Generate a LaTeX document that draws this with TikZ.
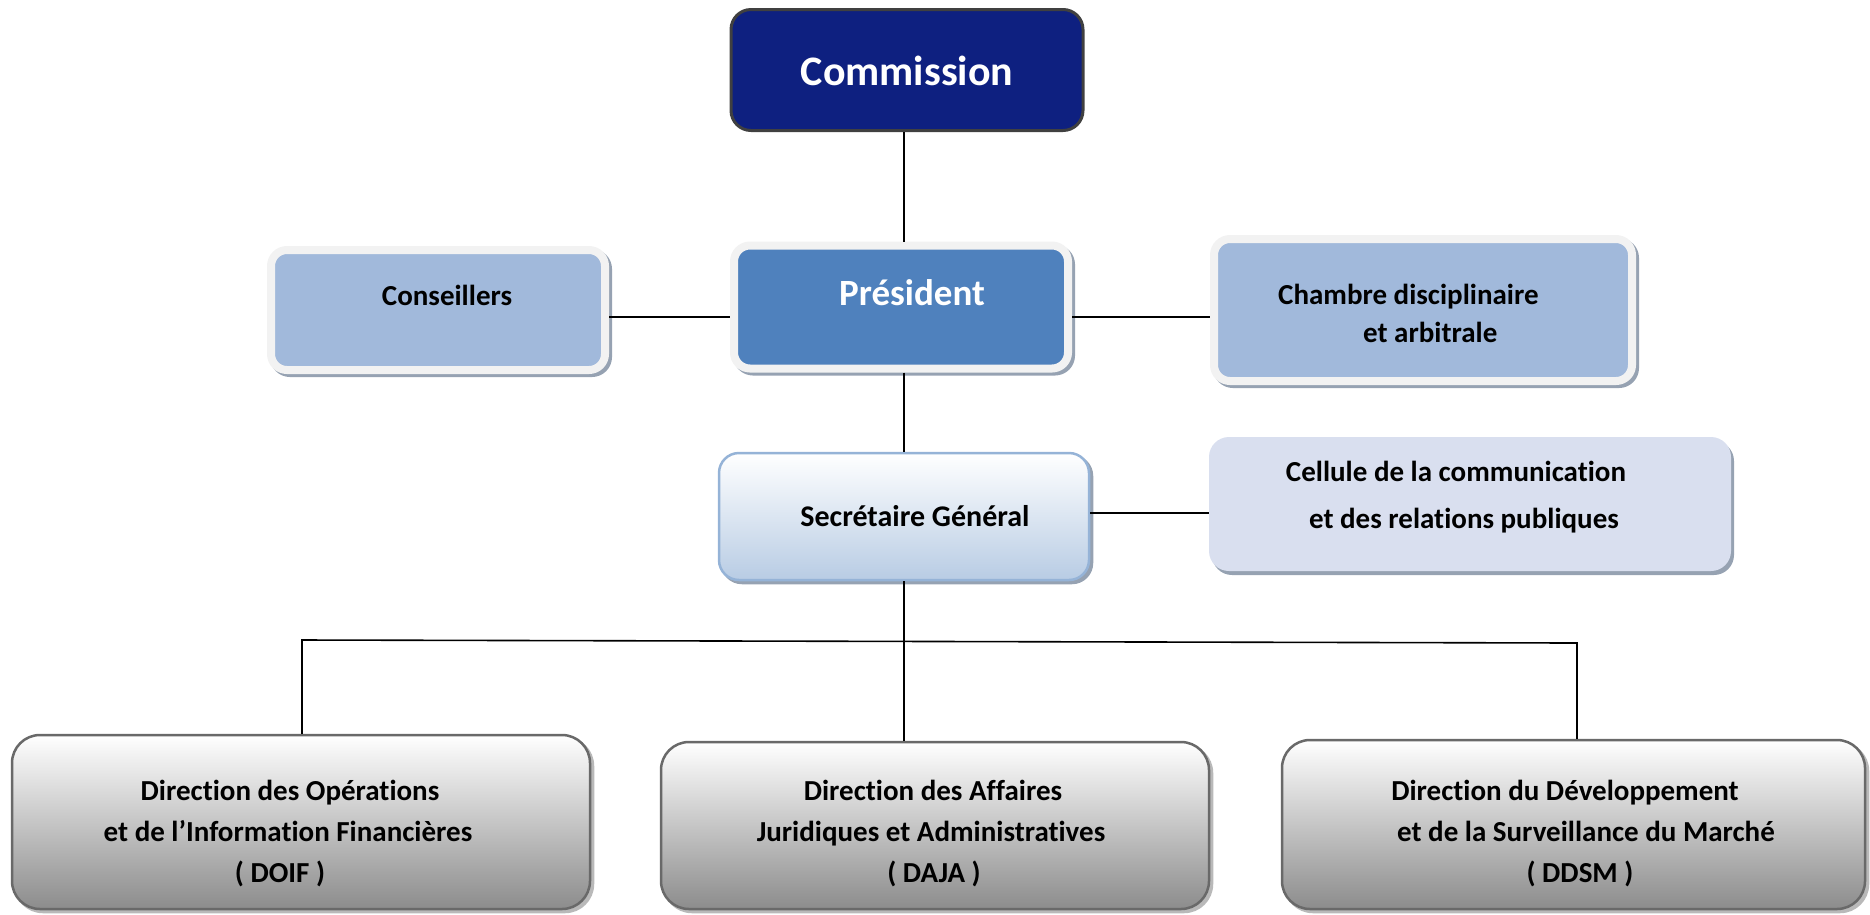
\documentclass[tikz,border=0pt]{standalone}
\usepackage{fontspec}
\setmainfont{Carlito}[Ligatures={NoCommon}]
\definecolor{commfill}{RGB}{14,32,128}
\definecolor{commdraw}{RGB}{64,64,64}
\definecolor{presfill}{RGB}{79,129,189}
\definecolor{litefill}{RGB}{161,185,219}
\definecolor{bevel}{RGB}{242,242,242}
\definecolor{shadowc}{RGB}{150,162,178}
\definecolor{cellfill}{RGB}{217,223,239}
\definecolor{sgbot}{RGB}{184,204,228}
\definecolor{sgmid}{RGB}{226,234,244}
\definecolor{sgdraw}{RGB}{149,179,215}
\definecolor{dirbot}{RGB}{140,140,140}
\definecolor{dirmid}{RGB}{212,212,212}
\definecolor{dirdraw}{RGB}{105,105,105}
\definecolor{dirshadow}{RGB}{185,185,185}
\begin{document}
\begin{tikzpicture}[x=1pt,y=-1pt,
  boxbase/.style={rectangle, inner sep=0pt},
  commbox/.style={boxbase, fill=commfill, draw=commdraw, line width=3pt, rounded corners=20pt},
  bevelbox/.style={boxbase, draw=bevel, line width=8pt, rounded corners=16pt,
    preaction={fill=shadowc, draw=shadowc, line width=8pt, transform canvas={shift={(3pt,-3pt)}}}},
  presbox/.style={bevelbox, fill=presfill},
  litebox/.style={bevelbox, fill=litefill},
  sgbox/.style={boxbase, draw=sgdraw, line width=2.5pt, rounded corners=20pt,
    top color=white, middle color=sgmid, bottom color=sgbot,
    preaction={fill=shadowc, draw=shadowc, line width=2.5pt, transform canvas={shift={(3pt,-3pt)}}}},
  cellbox/.style={boxbase, fill=cellfill, rounded corners=20pt,
    preaction={fill=shadowc, transform canvas={shift={(3pt,-4pt)}}}},
  dirbox/.style={boxbase, draw=dirdraw, line width=2.5pt, rounded corners=28pt,
    top color=white, middle color=dirmid, bottom color=dirbot,
    preaction={fill=dirshadow, draw=dirshadow, line width=2.5pt, transform canvas={shift={(3pt,-3pt)}}}},
  txt/.style={inner sep=0pt, text height=0.62em, text depth=0pt, font=\bfseries\fontsize{29}{35}\selectfont},
  wtxt/.style={txt, text=white},
  conn/.style={draw=black, line width=1.6pt}
]
\useasboundingbox (0,0) rectangle (1870,914);

% boxes
\node[commbox, minimum width=352pt, minimum height=121pt] (comm) at (907,70) {};
\node[presbox, minimum width=334pt, minimum height=123pt] (pres) at (901,307) {};
\node[litebox, minimum width=334pt, minimum height=120pt] (cons) at (438,310) {};
\node[litebox, minimum width=418pt, minimum height=142pt] (cham) at (1423,310) {};
\node[sgbox, minimum width=370pt, minimum height=127pt] (sg) at (904,516.5) {};
\node[cellbox, minimum width=522pt, minimum height=134pt] (cell) at (1470,504) {};
\node[dirbox, minimum width=578pt, minimum height=174pt] (doif) at (301,822) {};
\node[dirbox, minimum width=548pt, minimum height=167pt] (daja) at (935,825.5) {};
\node[dirbox, minimum width=583pt, minimum height=169pt] (ddsm) at (1573.5,824.5) {};

% texts
\node[wtxt, font=\bfseries\fontsize{42}{50}\selectfont] (tcomm) at (907,82) {Commission};
\node[wtxt, font=\bfseries\fontsize{37}{44}\selectfont] (tpres) at (912,302) {Président};
\node[txt] (tcons) at (447,302) {Conseillers};
\node[txt, anchor=west] (tcham1) at (1278,301) {Chambre disciplinaire};
\node[txt, anchor=west] (tcham2) at (1363,339) {et arbitrale};
\node[txt, font=\bfseries\fontsize{30}{36}\selectfont] (tsg) at (915,523) {Secrétaire Général};
\node[txt] (tcell1) at (1456,478) {Cellule de la communication};
\node[txt] (tcell2) at (1464,525) {et des relations publiques};
\node[txt] (tdoif1) at (290,797) {Direction des Opérations};
\node[txt] (tdoif2) at (288,838) {et de l’Information Financières};
\node[txt] (tdoif3) at (280,879) {( DOIF )};
\node[txt] (tdaja1) at (933,797) {Direction des Affaires};
\node[txt] (tdaja2) at (931,838) {Juridiques et Administratives};
\node[txt] (tdaja3) at (934,879) {( DAJA )};
\node[txt] (tddsm1) at (1565,797) {Direction du Développement};
\node[txt] (tddsm2) at (1586,838) {et de la Surveillance du Marché};
\node[txt] (tddsm3) at (1580,879) {( DDSM )};

% connectors
\coordinate (hy) at (0,317);
\coordinate (cy) at (0,513);
\coordinate (bl) at (302,640);
\coordinate (br) at (1577,643);
\draw[conn] (comm.south -| sg.north) -- (pres.north -| sg.north);
\draw[conn] (pres.south -| sg.north) -- (sg.north);
\draw[conn] (cons.east |- hy) -- (pres.west |- hy);
\draw[conn] (pres.east |- hy) -- (cham.west |- hy);
\draw[conn] (sg.east |- cy) -- (cell.west |- cy);
\draw[conn] (sg.south) -- (daja.north -| sg.south);
\draw[conn] (doif.north -| bl) -- (bl) -- (br) -- (ddsm.north -| br);
\end{tikzpicture}
\end{document}
